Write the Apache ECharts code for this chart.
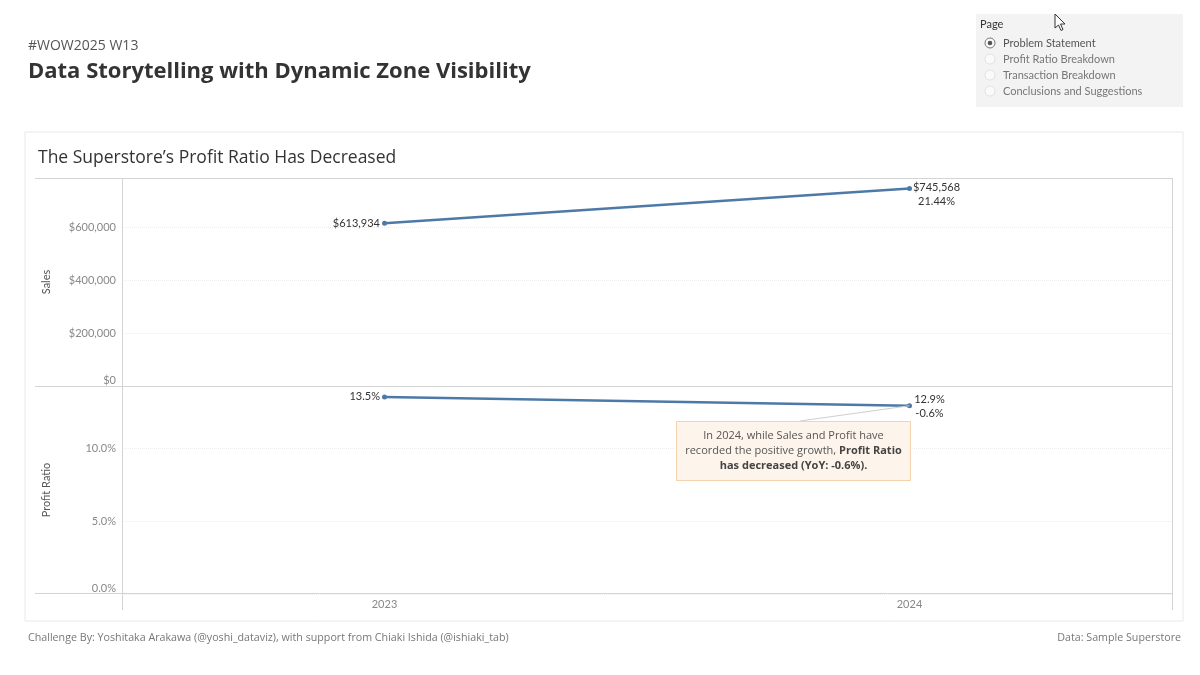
<!DOCTYPE html>
<html>
<head>
<meta charset="utf-8">
<script src="https://cdn.jsdelivr.net/npm/echarts@6/dist/echarts.min.js"></script>
<style>
html,body{margin:0;padding:0;background:#fff;}
#c{width:1200px;height:675px;}
</style>
</head>
<body>
<div id="c"></div>
<script>
const years = ['2023', '2024'];
const sales = [613934, 745568];
const profitRatio = [0.135, 0.129];
const salesGrowthLabel = '21.44%';
const ratioChangeLabel = '-0.6%';
const pageOptions = ['Problem Statement', 'Profit Ratio Breakdown', 'Transaction Breakdown', 'Conclusions and Suggestions'];

const FONT = 'Lato';
const FONT2 = '"Open Sans"';
const BLUE = '#4e79a7';
const fmtMoney = v => '$' + Math.round(v).toLocaleString('en-US');
const fmtPct = v => (v * 100).toFixed(1) + '%';
const isMult = (v, step) => Math.abs(v / step - Math.round(v / step)) < 1e-6;

const chart = echarts.init(document.getElementById('c'));

const salesData = sales.map((v, i) => ({
  value: v,
  label: i === 0
    ? { show: true, position: 'left', distance: 2, formatter: fmtMoney(v) }
    : { show: true, position: 'inside', offset: [27, 6], align: 'center', lineHeight: 14,
        formatter: fmtMoney(v) + '\n' + salesGrowthLabel }
}));
const ratioData = profitRatio.map((v, i) => ({
  value: v,
  label: i === 0
    ? { show: true, position: 'left', distance: 2, formatter: fmtPct(v) }
    : { show: true, position: 'inside', offset: [20, 1], align: 'center', lineHeight: 14,
        formatter: fmtPct(v) + '\n' + ratioChangeLabel }
}));

const frameColor = '#d4d4d4';
const graphics = [
  // card
  { type: 'rect', shape: { x: 25, y: 132, width: 1158, height: 489 }, style: { fill: 'none', stroke: '#e8e8e8', lineWidth: 1 }, silent: true },
  // headers
  { type: 'text', style: { text: '#WOW2025 W13', x: 28, y: 46, verticalAlign: 'middle', fill: '#555', font: '14px ' + FONT2 } },
  { type: 'text', style: { text: 'Data Storytelling with Dynamic Zone Visibility', x: 28, y: 72, verticalAlign: 'middle', fill: '#333', font: 'bold 22px ' + FONT2 } },
  { type: 'text', style: { text: 'The Superstore\u2019s Profit Ratio Has Decreased', x: 38, y: 158, verticalAlign: 'middle', fill: '#333', font: '17.5px ' + FONT2 } },
  // frame lines
  { type: 'line', shape: { x1: 35, y1: 178.5, x2: 1172, y2: 178.5 }, style: { stroke: frameColor, lineWidth: 1 }, silent: true },
  { type: 'line', shape: { x1: 35, y1: 386.5, x2: 1172, y2: 386.5 }, style: { stroke: frameColor, lineWidth: 1 }, silent: true },
  { type: 'line', shape: { x1: 35, y1: 593.5, x2: 1172, y2: 593.5 }, style: { stroke: frameColor, lineWidth: 1 }, silent: true },
  { type: 'line', shape: { x1: 122.5, y1: 178, x2: 122.5, y2: 610 }, style: { stroke: frameColor, lineWidth: 1 }, silent: true },
  { type: 'line', shape: { x1: 1172.5, y1: 178, x2: 1172.5, y2: 610 }, style: { stroke: frameColor, lineWidth: 1 }, silent: true },
  // footer
  { type: 'text', style: { text: 'Challenge By: Yoshitaka Arakawa (@yoshi_dataviz), with support from Chiaki Ishida (@ishiaki_tab)', x: 28, y: 638, verticalAlign: 'middle', fill: '#777', font: '10.7px ' + FONT2 } },
  { type: 'text', style: { text: 'Data: Sample Superstore', x: 1181, y: 638, align: 'right', verticalAlign: 'middle', fill: '#777', font: '10.7px ' + FONT2 } },
  // parameter panel
  { type: 'rect', shape: { x: 976, y: 14, width: 207, height: 93 }, style: { fill: '#f3f3f3' }, silent: true },
  { type: 'text', style: { text: 'Page', x: 980, y: 24, verticalAlign: 'middle', fill: '#333', font: '11px ' + FONT } }
];
pageOptions.forEach((p, i) => {
  const cy = 43 + i * 16;
  graphics.push({ type: 'circle', shape: { cx: 990, cy: cy, r: 5 }, style: { fill: '#fafafa', stroke: i === 0 ? '#777' : '#e2e2e2', lineWidth: 1 }, silent: true });
  if (i === 0) graphics.push({ type: 'circle', shape: { cx: 990, cy: cy, r: 2.3 }, style: { fill: '#555' }, silent: true });
  graphics.push({ type: 'text', style: { text: p, x: 1003, y: cy, verticalAlign: 'middle', fill: i === 0 ? '#555' : '#777', font: '11px ' + FONT } });
});
// cursor
graphics.push({ type: 'polygon', shape: { points: [[1055, 14], [1055, 28], [1058.5, 25], [1061, 30.5], [1063, 29.5], [1060.5, 24], [1065, 24]] }, style: { fill: '#fff', stroke: '#333', lineWidth: 1 }, silent: true });
// annotation box
graphics.push({ type: 'rect', id: 'annoBox', z: 5, shape: { x: 676.5, y: 421.5, width: 234, height: 59 }, style: { fill: '#fdf4ec', stroke: '#f3d2ad', lineWidth: 1 }, silent: true });
graphics.push({ type: 'text', z: 6, style: {
  text: '{n|In 2024, while Sales and Profit have}\n{n|recorded the positive growth, }{b|Profit Ratio}\n{b|has decreased (YoY: ' + ratioChangeLabel + ').}',
  x: 793.5, y: 451, align: 'center', verticalAlign: 'middle',
  rich: {
    n: { fill: '#555', font: '11px ' + FONT2, lineHeight: 15 },
    b: { fill: '#444', font: 'bold 11px ' + FONT2, lineHeight: 15 }
  }
} });

const axisLabelStyle = { color: '#888', fontSize: 11, fontFamily: FONT };
const splitLineStyle = { show: true, lineStyle: { color: '#ececec', type: 'dotted', width: 1 } };

const option = {
  animation: false,
  backgroundColor: '#fff',
  textStyle: { fontFamily: FONT },
  grid: [
    { left: 122, right: 28, top: 178, height: 208 },
    { left: 122, right: 28, top: 386, height: 208 }
  ],
  xAxis: [
    { type: 'category', gridIndex: 0, data: years, boundaryGap: true,
      axisLine: { show: false }, axisTick: { show: false }, axisLabel: { show: false }, splitLine: { show: false } },
    { type: 'category', gridIndex: 1, data: years, boundaryGap: true,
      axisLine: { show: false }, axisTick: { show: false },
      axisLabel: Object.assign({ margin: 5 }, axisLabelStyle), splitLine: { show: false } }
  ],
  yAxis: [
    { type: 'value', gridIndex: 0, min: 0, max: 785000, interval: 200000,
      name: 'Sales', nameLocation: 'middle', nameGap: 70,
      nameTextStyle: { color: '#555', fontSize: 11, fontFamily: FONT },
      axisLine: { show: false }, axisTick: { show: false },
      axisLabel: Object.assign({ margin: 6, showMaxLabel: false, verticalAlignMinLabel: 'bottom',
        formatter: v => isMult(v, 200000) ? fmtMoney(v) : '' }, axisLabelStyle),
      splitLine: splitLineStyle },
    { type: 'value', gridIndex: 1, min: 0, max: 0.1425, interval: 0.05,
      name: 'Profit Ratio', nameLocation: 'middle', nameGap: 70,
      nameTextStyle: { color: '#555', fontSize: 11, fontFamily: FONT },
      axisLine: { show: false }, axisTick: { show: false },
      axisLabel: Object.assign({ margin: 6, showMaxLabel: false, verticalAlignMinLabel: 'bottom',
        formatter: v => isMult(v, 0.05) ? fmtPct(v) : '' }, axisLabelStyle),
      splitLine: splitLineStyle }
  ],
  series: [
    { type: 'line', name: 'Sales', xAxisIndex: 0, yAxisIndex: 0, data: salesData,
      symbol: 'circle', symbolSize: 5, showAllSymbol: true,
      lineStyle: { color: BLUE, width: 2.5 }, itemStyle: { color: BLUE },
      label: { color: '#333', fontSize: 11, fontFamily: FONT } },
    { type: 'line', name: 'Profit Ratio', xAxisIndex: 1, yAxisIndex: 1, data: ratioData,
      symbol: 'circle', symbolSize: 5, showAllSymbol: true,
      lineStyle: { color: BLUE, width: 2.5 }, itemStyle: { color: BLUE },
      label: { color: '#333', fontSize: 11, fontFamily: FONT } }
  ],
  graphic: graphics
};
chart.setOption(option);

// connector from annotation to the 2024 profit ratio point
const pt = chart.convertToPixel({ xAxisIndex: 1, yAxisIndex: 1 }, [years[1], profitRatio[1]]);
graphics.push({ type: 'line', z: 4, shape: { x1: 800, y1: 421, x2: pt[0], y2: pt[1] }, style: { stroke: '#cfcfcf', lineWidth: 1 }, silent: true });
chart.setOption({ graphic: graphics }, { replaceMerge: ['graphic'] });
</script>
</body>
</html>
